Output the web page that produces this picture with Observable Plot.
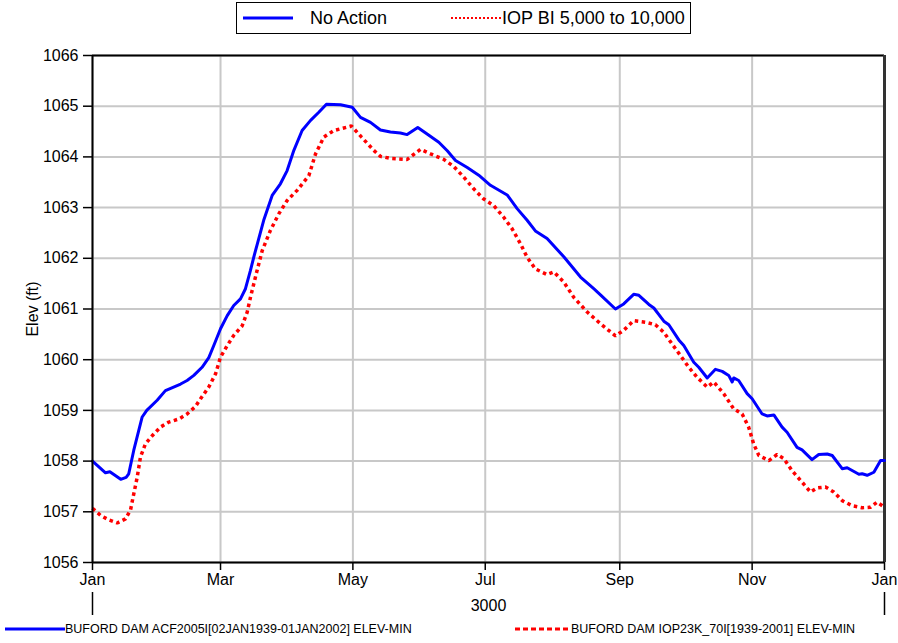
<!DOCTYPE html>
<html><head><meta charset="utf-8">
<script src="https://cdn.jsdelivr.net/npm/d3@7"></script>
<script src="https://cdn.jsdelivr.net/npm/@observablehq/plot@0.6"></script>
<style>
body{margin:0;background:#fff;font-family:"Liberation Sans",Arial,sans-serif;color:#000;}
#page{position:relative;width:898px;height:643px;overflow:hidden;background:#fff;}
#legend{position:absolute;left:236px;top:2px;width:455px;height:32px;border:1px solid #000;box-sizing:border-box;font-size:18px;}
.item{position:absolute;top:0;height:30px;line-height:30px;white-space:nowrap;}
.item svg{position:absolute;top:0;}
.item span{position:absolute;top:0;}
#chart{position:absolute;left:0;top:37px;}
#footer{position:absolute;left:0;top:620px;width:898px;height:23px;font-size:12.5px;}
.fitem{position:absolute;top:0;height:18px;line-height:18px;white-space:nowrap;}
.fitem svg{position:absolute;top:0;}
.fitem span{position:absolute;top:0;}
</style></head>
<body><div id="page"><div id="legend"></div><div id="chart"></div><div id="footer"></div></div>
<script>
// ---- data ----
const seriesNames = ["No Action", "IOP BI 5,000 to 10,000"];
const footerNames = ["BUFORD DAM ACF2005I[02JAN1939-01JAN2002] ELEV-MIN", "BUFORD DAM IOP23K_70I[1939-2001] ELEV-MIN"];
const yearLabel = "3000";
const tickLabels = ["Jan", "Mar", "May", "Jul", "Sep", "Nov", "Jan"];
const tickMonths = [[3000,0],[3000,2],[3000,4],[3000,6],[3000,8],[3000,10],[3001,0]];
const yTicks = [1056,1057,1058,1059,1060,1061,1062,1063,1064,1065,1066];

// day of year (from 1 Jan 3000) and elevation (ft)
const noActionDays = [0,6,8,13,15.5,16.7,19,22.9,25,29.8,33.6,39,40.6,43.6,46.7,50.5,53.6,55.9,59,62.1,65.1,68.2,70.5,72.8,74.3,78.9,82.8,86.6,89.7,92.8,96.6,100.5,104.3,107.8,114.3,119.7,123.5,128.1,132.7,137.3,141.9,145,149.9,154.2,159.6,163.5,167.3,172.7,178,183.4,191.1,195.7,200.3,204.1,209.5,217.2,224.9,231,234.1,241,244.8,249.4,251.8,256.4,258.7,263.3,265.6,270.2,272.5,277.1,279.4,283.3,287.1,290.2,293.2,294.8,295.5,297.8,301.7,304,308.6,310.9,314,317.8,320.1,324.7,327,331.6,334.7,338.6,340.9,345.5,347.8,353.2,354.7,357,360.1,363.2,365];
const noActionElev = [1058.00,1057.77,1057.79,1057.64,1057.68,1057.75,1058.21,1058.87,1059.00,1059.20,1059.39,1059.49,1059.52,1059.59,1059.69,1059.85,1060.04,1060.28,1060.61,1060.87,1061.07,1061.20,1061.40,1061.76,1062.02,1062.75,1063.24,1063.47,1063.73,1064.13,1064.52,1064.72,1064.88,1065.04,1065.03,1064.98,1064.78,1064.68,1064.53,1064.49,1064.47,1064.44,1064.58,1064.45,1064.29,1064.12,1063.93,1063.79,1063.64,1063.44,1063.25,1062.98,1062.75,1062.54,1062.39,1062.03,1061.63,1061.40,1061.28,1061.00,1061.10,1061.29,1061.27,1061.09,1061.02,1060.76,1060.69,1060.39,1060.28,1059.95,1059.85,1059.64,1059.81,1059.77,1059.69,1059.56,1059.64,1059.59,1059.33,1059.23,1058.93,1058.89,1058.91,1058.67,1058.57,1058.27,1058.22,1058.03,1058.13,1058.14,1058.11,1057.85,1057.87,1057.74,1057.75,1057.72,1057.78,1058.01,1058.01];

const iopDays = [0,3.7,7.5,11.4,15.2,17.5,19,20.6,22.1,24.4,27.5,31.3,35.2,39.8,43.6,47.5,49.8,53.6,56.7,59,62.1,65.1,69,71.3,72.8,75.5,78.2,82,85.9,89.7,94.3,99.7,102.8,106.6,111.2,119.3,124,129.6,132.7,137.3,145,151.2,155.8,161.9,166.5,171.1,175.7,180.3,184.9,189.5,193.4,197.2,200.3,204.1,209.5,212.6,217.2,221.8,228,234.1,241,244.8,249.4,254.8,259.4,263.3,267.1,271,274.8,278.7,283.3,286.3,290.9,295.5,299.4,302.4,304.7,307.1,311.7,315.5,318.6,322.4,326.3,330.9,333.9,337.8,341.6,345.5,350.1,354.7,358.5,361.6,365];
const iopElev = [1057.07,1056.93,1056.84,1056.78,1056.86,1057.03,1057.35,1057.68,1058.08,1058.34,1058.50,1058.67,1058.77,1058.83,1058.93,1059.08,1059.23,1059.46,1059.72,1060.05,1060.28,1060.48,1060.67,1060.94,1061.23,1061.70,1062.15,1062.55,1062.88,1063.14,1063.34,1063.63,1064.06,1064.39,1064.52,1064.61,1064.39,1064.13,1064.01,1063.97,1063.95,1064.15,1064.06,1063.95,1063.81,1063.60,1063.37,1063.17,1063.04,1062.81,1062.58,1062.29,1062.02,1061.79,1061.68,1061.73,1061.53,1061.23,1060.94,1060.71,1060.47,1060.58,1060.77,1060.74,1060.69,1060.54,1060.31,1060.08,1059.85,1059.65,1059.46,1059.56,1059.33,1059.03,1058.93,1058.67,1058.34,1058.11,1058.01,1058.13,1058.05,1057.81,1057.62,1057.39,1057.47,1057.49,1057.39,1057.22,1057.12,1057.08,1057.09,1057.19,1057.09];

// ---- build ----
const start = new Date(Date.UTC(3000,0,1));
const end = new Date(Date.UTC(3001,0,1));
const mid = new Date((start.getTime() + end.getTime()) / 2);
const toDate = d => new Date(start.getTime() + d * 864e5);
const naRows = noActionDays.map((d, i) => ({date: toDate(d), elev: noActionElev[i]}));
const iopRows = iopDays.map((d, i) => ({date: toDate(d), elev: iopElev[i]}));
const xTicks = tickMonths.map(([y, m]) => new Date(Date.UTC(y, m, 1)));
const labelByTime = new Map(xTicks.map((t, i) => [+t, tickLabels[i]]));

const BLUE = "#0000ff", RED = "#ff0000", GRID = "#c8c8c8";

const chart = Plot.plot({
  width: 898, height: 583,
  marginLeft: 92, marginRight: 14, marginTop: 18, marginBottom: 58,
  x: {type: "utc", domain: [start, end]},
  y: {domain: [1056, 1066]},
  style: {fontFamily: '"Liberation Sans", Arial, sans-serif', background: "#fff", color: "#000", overflow: "visible"},
  marks: [
    Plot.gridY(yTicks, {stroke: GRID, strokeOpacity: 1, strokeWidth: 2}),
    Plot.gridX(xTicks, {stroke: GRID, strokeOpacity: 1, strokeWidth: 2}),
    Plot.ruleY([1066], {stroke: "#000", strokeWidth: 2}),
    Plot.ruleX([end], {stroke: "#333", strokeWidth: 3}),
    Plot.line(naRows, {x: "date", y: "elev", stroke: BLUE, strokeWidth: 3}),
    Plot.line(iopRows, {x: "date", y: "elev", stroke: RED, strokeWidth: 3.5, strokeDasharray: "3.5,3.5", strokeLinecap: "butt", strokeLinejoin: "miter"}),
    Plot.ruleX([start], {stroke: "#000", strokeWidth: 2}),
    Plot.ruleY([1056], {stroke: "#000", strokeWidth: 2}),
    Plot.axisY(yTicks, {tickSize: 9, tickPadding: 5, fontSize: 16, strokeWidth: 1.5,
      tickFormat: d => String(d), label: "Elev (ft)", labelAnchor: "center", labelOffset: 66, labelArrow: "none"}),
    Plot.axisX(xTicks, {tickSize: 8, tickPadding: 3, fontSize: 16, strokeWidth: 1.5,
      tickFormat: d => labelByTime.get(+d), label: null}),
    Plot.axisX([start, end], {tickSize: 23, dy: 30, strokeWidth: 1.5, tickFormat: () => "", label: null}),
    Plot.text([yearLabel], {x: () => mid, text: d => d, frameAnchor: "bottom", dy: 48, fontSize: 16, fill: "#000"})
  ]
});
document.getElementById("chart").appendChild(chart);

// ---- top legend ----
const legend = document.getElementById("legend");
const legendSpecs = [
  {name: seriesNames[0], color: BLUE, dash: null, width: 3, left: 6, len: 50, textLeft: 73},
  {name: seriesNames[1], color: RED, dash: "2,2", width: 2, left: 214, len: 50, textLeft: 265}
];
for (const s of legendSpecs) {
  const it = document.createElement("div");
  it.className = "item";
  it.style.left = s.left + "px";
  it.innerHTML = `<svg width="${s.len}" height="30"><line x1="0" x2="${s.len}" y1="15" y2="15" stroke="${s.color}" stroke-width="${s.width}" ${s.dash ? `stroke-dasharray="${s.dash}"` : ""}/></svg><span style="left:${s.textLeft - s.left}px">${s.name}</span>`;
  legend.appendChild(it);
}

// ---- footer ----
const footer = document.getElementById("footer");
const footerSpecs = [
  {name: footerNames[0], color: BLUE, dash: null, left: 5, len: 60, textLeft: 65},
  {name: footerNames[1], color: RED, dash: "5,3", left: 515, len: 54, textLeft: 571}
];
for (const s of footerSpecs) {
  const it = document.createElement("div");
  it.className = "fitem";
  it.style.left = s.left + "px";
  it.innerHTML = `<svg width="${s.len}" height="18"><line x1="0" x2="${s.len}" y1="9" y2="9" stroke="${s.color}" stroke-width="3" ${s.dash ? `stroke-dasharray="${s.dash}"` : ""}/></svg><span style="left:${s.textLeft - s.left}px">${s.name}</span>`;
  footer.appendChild(it);
}
</script></body></html>
